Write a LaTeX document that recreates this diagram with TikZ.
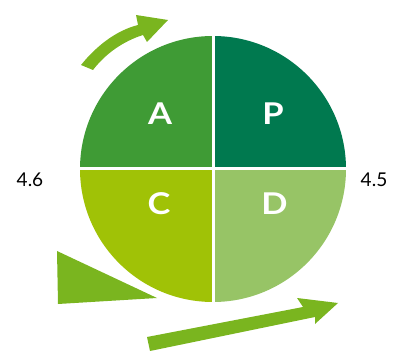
\documentclass[tikz,border=0pt]{standalone}
\usepackage{fontspec}
\setmainfont{Lato}
\definecolor{cA}{HTML}{3F9B35}
\definecolor{cP}{HTML}{00794F}
\definecolor{cC}{HTML}{A0C206}
\definecolor{cD}{HTML}{97C466}
\definecolor{arr}{HTML}{7AB51F}
\tikzset{
  letter/.style={text=white,font=\fontsize{30}{32}\selectfont\bfseries,inner sep=0pt,xscale=1.15,transform shape},
  num/.style={text=black,font=\fontsize{19}{21}\selectfont,inner sep=0pt},
  sep/.style={white,line width=3pt},
  arrowshape/.style={fill=arr,draw=none}
}
\begin{document}
\begin{tikzpicture}[x=1pt,y=1pt]
\useasboundingbox (0,0) rectangle (395,350);
\clip (0,0) rectangle (395,350);
\coordinate (O) at (213,181);
% quadrants
\fill[cA] (O) -- ++(-133,0) arc (180:90:133) -- cycle;
\fill[cP] (O) -- ++(0,133) arc (90:0:133) -- cycle;
\fill[cD] (O) -- ++(133,0) arc (0:-90:133) -- cycle;
\fill[cC] (O) -- ++(0,-133) arc (-90:-180:133) -- cycle;
\coordinate (Ot) at (213,315);
\coordinate (Ob) at (213,47);
\coordinate (Ol) at (79,181);
\coordinate (Or) at (347,181);
\draw[sep] (Ot) -- (Ob);
\draw[sep] (Ol) -- (Or);
% letters
\node[letter] (A) at (160,236) {A};
\node[letter] (P) at (273,236) {P};
\node[letter] (C) at (159,146.5) {C};
\node[letter] (D) at (274.5,146.5) {D};
% numbers
\node[num] (n46) at (30,170.5) {4.6};
\node[num] (n45) at (374,170) {4.5};
% top curved arrow
\fill[arrowshape] (81,285) .. controls (98,306) and (118,320) .. (138,325)
  -- (136,335) -- (168,330) -- (147,308) -- (143,315)
  .. controls (124,309) and (106,297) .. (93,280) -- cycle;
% triangle
\fill[arrowshape] (57,99) -- (58,46) -- (157,52) -- cycle;
% bottom arrow
\fill[arrowshape] (147,13) -- (303,43) -- (297,52) -- (338,47) -- (315,26) -- (315,33) -- (150,-1) -- cycle;
\end{tikzpicture}
\end{document}
